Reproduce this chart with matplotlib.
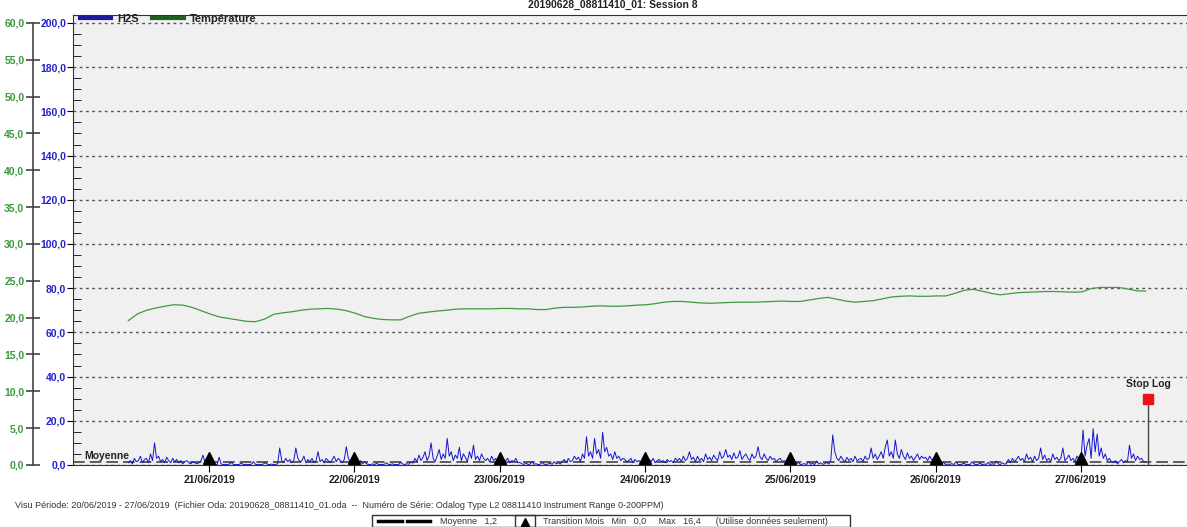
import pandas as pd
import numpy as np
import matplotlib
matplotlib.use('Agg')
import matplotlib.pyplot as plt
import matplotlib.dates as mdates
from matplotlib.lines import Line2D
from matplotlib.patches import Rectangle

plt.rcParams['font.family'] = ['Liberation Sans', 'DejaVu Sans']

# H2S readings (ppm), one every 20 min from 20/06/2019 10:40
h2s = [1, 2, 0.5, 3, 1.5, 2, 4, 1, 2.5, 3, 1, 5, 2, 10, 3, 4, 1.5, 2.5, 1, 3.5,
       2, 1, 3, 1.5, 2.5, 1, 2, 0.5, 1.5, 2, 1, 0.5, 1.5, 1, 0.5, 1,
       2, 4.5, 1, 3, 4, 1.5, 0.5,
       0.3, 0.2, 3.5, 0.5, 0.2, 0.3, 0.2, 0.4, 1.2, 0.3, 0.2, 0.2, 0.3, 0.8, 0.2, 0.3,
       0.2, 0.2, 0.4, 1.5, 0.3, 0.2, 0.3, 0.2, 0.5, 1.0, 0.3, 0.2, 0.4, 0.2, 0.3, 0.5,
       7.7, 2, 1, 3, 1.5, 2.5, 1, 2, 7.7, 3, 1.5, 2, 4, 1, 2.5, 1.5, 3, 1, 2, 6,
       1.5, 2.5, 1, 3, 2, 1, 2.5, 4, 1.5, 3, 2, 1, 2.5, 8.3,
       3, 1.5, 3.5, 1, 2.5, 1, 2, 0.5, 1.5, 0.5,
       0.3, 0.2, 0.5, 0.2, 0.8, 0.2, 0.3, 0.2, 0.4, 1.0, 0.2, 0.3, 0.5, 0.2, 0.2, 0.3,
       1.2, 0.4, 0.2, 0.6, 0.3, 1.5, 0.8,
       3, 1.5, 4.5, 2, 3.5, 6, 2, 4, 10, 3, 1.5, 4, 7, 2.5, 5, 3, 12, 4, 6, 2,
       4.5, 3, 8, 2, 5, 3.5, 1.5, 6, 3, 9, 2.5, 4, 2, 5, 3,
       2, 3, 1.5, 4, 2, 3, 1, 2.5, 3.5, 1.5, 2, 3, 1, 2, 1.5, 3, 1, 1.2,
       0.5, 0.3, 1.0, 0.2, 0.4, 1.5, 0.3, 0.6, 0.2, 0.3, 1.2, 0.4, 0.2, 0.5, 0.8, 0.3,
       1.5, 0.6, 1.0, 0.4, 1.5,
       2.5, 1, 3, 1.5, 2, 4, 2.5, 3.5, 1.5, 5, 3, 12.8, 4, 6, 3, 12, 5, 7, 3, 14.8,
       6, 8, 4, 5, 2.5, 6, 3, 4, 2, 3,
       2.5, 1.5, 2, 3, 1, 2.5, 1.5, 2, 1, 2.5, 1.5, 1, 2.5, 1.5, 3, 1, 2, 2.5, 1.5, 2,
       1, 2.5, 1.5, 2, 1, 3,
       2, 3, 1.5, 4, 2, 3, 6, 2.5, 3.5, 1.5, 4, 2, 3, 1.5, 5, 2.5, 3.5, 2, 4.5, 3,
       2, 6, 3, 4, 7, 3.5, 4.5, 2.5, 5.5, 3, 3.5, 6.5, 2.5, 4, 5, 3, 2, 5, 3, 4,
       8.3, 3.5, 2.5, 5, 3, 2, 4, 2.5, 3, 1.5, 2.5, 3, 1.5, 2, 1, 1.5,
       1.5, 0.8, 0.3, 0.5, 1.2, 0.2, 0.4, 0.6, 0.2, 1.5, 0.3, 0.8, 0.2, 1.8, 0.5, 1.0,
       0.3, 0.6, 1.2, 0.4, 2,
       13.6, 6,
       3, 2, 4, 2.5, 1.5, 3.5, 2, 3, 1.5, 4, 2, 2.5, 3, 1.5, 4, 2.5, 3,
       7.7, 3, 5, 2.5, 4, 6, 3, 8, 11.3, 4, 6, 3, 11.3, 5, 3, 7, 4, 2.5, 5.5, 3,
       4, 2, 3.5, 5, 2.5, 4, 3, 3.5, 2, 4, 2.5, 1.5,
       2, 1, 0.5, 0.3, 1.2, 0.2, 0.4, 0.3, 0.6, 0.2, 1.5, 0.3, 0.2, 0.4, 0.8, 0.2,
       0.3, 0.2, 1.4, 0.5, 0.2, 0.3, 0.9, 0.2, 0.4, 0.3, 1.2, 0.2, 0.6, 0.3, 1.8, 0.5,
       0.2, 1.0, 0.4, 0.6, 2.5, 1, 3, 1.5, 2.5,
       4, 2, 3, 1.5, 5, 2.5, 3.5, 1.5, 4, 2, 3, 7.7, 2.5, 4.5, 2, 3, 1.5, 5, 2.5, 3.5,
       2, 3, 7.7, 2, 3, 4.5, 2, 3, 1.5, 4, 2.5, 3,
       15.8, 4, 9, 12, 3, 16.4, 6, 14, 4, 7.7, 3, 5, 2, 3,
       1.5, 1, 2, 0.5, 1.5, 2.5, 1, 2, 1.5,
       9, 3, 5, 2, 4, 2.5, 3, 1.5, 1.5]

# temperature (°C), one every 1h30 from 20/06/2019 10:40
temp = [19.6, 20.5, 21.0, 21.3, 21.55, 21.75, 21.7, 21.4, 20.95, 20.5,
        20.1, 19.9, 19.7, 19.5, 19.45, 19.8, 20.45, 20.65, 20.8, 21.0,
        21.15, 21.2, 21.25, 21.15, 20.95, 20.6, 20.15, 19.9, 19.75, 19.7,
        19.7, 20.2, 20.6, 20.75, 20.9, 21.0, 21.15, 21.2, 21.2, 21.2,
        21.2, 21.25, 21.25, 21.2, 21.2, 21.1, 21.1, 21.3, 21.4, 21.4,
        21.45, 21.55, 21.6, 21.55, 21.55, 21.6, 21.7, 21.75, 21.9, 22.1,
        22.2, 22.2, 22.1, 22.0, 21.95, 22.0, 22.05, 22.1, 22.1, 22.1,
        22.15, 22.2, 22.25, 22.2, 22.2, 22.4, 22.6, 22.75, 22.5, 22.25,
        22.1, 22.2, 22.3, 22.55, 22.8, 22.9, 22.95, 22.9, 22.9, 22.95,
        22.95, 23.3, 23.7, 23.85, 23.6, 23.3, 23.1, 23.25, 23.4, 23.45,
        23.5, 23.55, 23.55, 23.5, 23.45, 23.5, 23.95, 24.1, 24.1, 24.1,
        23.9, 23.65, 23.6]

moyenne = 1.2
h2s_min = 0.0
h2s_max = 16.4
stop_log_time = '2019-06-27 11:04'
stop_log_value = 30
month_marks = ['2019-06-21', '2019-06-22', '2019-06-23', '2019-06-24',
               '2019-06-25', '2019-06-26', '2019-06-27']
h2s_ticks = [0, 20, 40, 60, 80, 100, 120, 140, 160, 180, 200]
temp_ticks = [0, 5, 10, 15, 20, 25, 30, 35, 40, 45, 50, 55, 60]

h2s_time = pd.date_range('2019-06-20 10:40', periods=len(h2s), freq='20min')
temp_time = pd.date_range('2019-06-20 10:40', periods=len(temp), freq='90min')
marks = pd.to_datetime(month_marks)


def fr(v):
    return f"{v:.1f}".replace('.', ',')


fig = plt.figure(figsize=(11.87, 5.27), dpi=100)
ax = fig.add_axes([73 / 1187, 1 - 465 / 527, 1 - 73 / 1187, 450 / 527])
ax.set_facecolor('#f0f0f0')

blue = '#1515d0'
green = '#3f9a3f'

ax.plot(h2s_time, h2s, color=blue, lw=0.7, zorder=3)
ax.axhline(moyenne, color='#444444', lw=1.2, dashes=(7, 3), zorder=2)
ax.text(pd.Timestamp('2019-06-20 03:20'), moyenne + 0.7, 'Moyenne', fontsize=7.5,
        fontweight='bold', color='#222222', va='bottom')
ax.plot(marks, [3.2] * len(marks), linestyle='none', marker='^', ms=9,
        color='black', zorder=4, clip_on=False)

# stop log
slt = pd.Timestamp(stop_log_time)
ax.plot([slt, slt], [0, stop_log_value], color='#444444', lw=1, zorder=4)
ax.plot([slt], [stop_log_value], marker='s', ms=7, color='#ee1111', zorder=5)
ax.text(slt, stop_log_value + 4.5, 'Stop Log', ha='center', va='bottom',
        fontsize=7.5, fontweight='bold', color='#222222')

ax.set_xlim(pd.Timestamp('2019-06-20 01:32'), pd.Timestamp('2019-06-27 17:30'))
ax.set_ylim(0, 203.6)
ax.set_yticks(h2s_ticks)
ax.set_yticklabels([fr(v) for v in h2s_ticks], color='#2222cc',
                   fontsize=7.5, fontweight='bold')
ax.set_yticks(np.arange(5, 200, 5), minor=True)
ax.tick_params(axis='y', which='major', direction='out', length=4, pad=1)
ax.tick_params(axis='y', which='minor', direction='in', length=6)
ax.grid(axis='y', which='major', color='#555555', lw=1,
        linestyle=(0, (2, 2.5)))
ax.set_xticks(marks)
ax.xaxis.set_major_formatter(mdates.DateFormatter('%d/%m/%Y'))
ax.tick_params(axis='x', direction='out', length=5, pad=2)
for lbl in ax.get_xticklabels():
    lbl.set_fontsize(7.5)
    lbl.set_fontweight('bold')
    lbl.set_color('#222222')
ax.spines['right'].set_visible(False)
for s in ['left', 'bottom', 'top']:
    ax.spines[s].set_color('#333333')

# temperature axis
ax2 = ax.twinx()
ax2.plot(temp_time, temp, color=green, lw=0.9, zorder=3)
ax2.set_ylim(0, 203.6 * 0.3)
ax2.yaxis.set_ticks_position('left')
ax2.yaxis.set_label_position('left')
ax2.spines['left'].set_position(('outward', 29))
ax2.spines['left'].set_bounds(0, 60)
ax2.spines['left'].set_color('#444444')
ax2.spines['left'].set_linewidth(1.2)
for s in ['right', 'top', 'bottom']:
    ax2.spines[s].set_visible(False)
ax2.set_yticks(temp_ticks)
ax2.set_yticklabels([fr(v) for v in temp_ticks], color='#3a9a3a',
                    fontsize=7.5, fontweight='bold')
ax2.tick_params(axis='y', direction='inout', length=10, width=1.2, pad=1,
                color='#444444')

handles = [Line2D([], [], color='#1a1aa0', lw=3),
           Line2D([], [], color='#1f5f1f', lw=3)]
leg = ax2.legend(handles, ['H2S', 'Température'], loc='upper left', ncol=2,
                 frameon=False, fontsize=8, handlelength=2.8,
                 handletextpad=0.6, columnspacing=1.2,
                 borderaxespad=0.0, bbox_to_anchor=(0.002, 1.013))
for t in leg.get_texts():
    t.set_fontweight('bold')
    t.set_color('#222222')

fig.text(613 / 1187, 1 - 5 / 527, '20190628_08811410_01: Session 8',
         ha='center', va='center', fontsize=7.5, fontweight='bold',
         color='#222222')

fig.text(15 / 1187, 1 - 506 / 527,
         'Visu Période: 20/06/2019 - 27/06/2019  (Fichier Oda: 20190628_08811410_01.oda  --  '
         'Numéro de Série: Odalog Type L2 08811410 Instrument Range 0-200PPM)',
         ha='left', va='center', fontsize=6.5, color='#333333')

# bottom legend box
fig.patches.append(Rectangle((372 / 1187, 0), (850 - 372) / 1187, 12 / 527,
                             transform=fig.transFigure, fill=False,
                             edgecolor='#333333', lw=1))
fig.patches.append(Rectangle((515 / 1187, 0), 20 / 1187, 12 / 527,
                             transform=fig.transFigure, fill=False,
                             edgecolor='#333333', lw=1))
yl = 1 - 521 / 527
fig.lines.append(Line2D([378 / 1187, 402 / 1187], [yl, yl], color='black',
                        lw=2.5, transform=fig.transFigure))
fig.lines.append(Line2D([407 / 1187, 430 / 1187], [yl, yl], color='black',
                        lw=2.5, transform=fig.transFigure))
fig.lines.append(Line2D([525 / 1187], [yl - 0.002], marker='^', ms=6,
                        color='black', transform=fig.transFigure))
fig.text(440 / 1187, yl, f'Moyenne   {fr(moyenne)}', ha='left', va='center',
         fontsize=6.5, color='#333333')
fig.text(543 / 1187, yl,
         f'Transition Mois   Min   {fr(h2s_min)}     Max   {fr(h2s_max)}      '
         '(Utilise données seulement)',
         ha='left', va='center', fontsize=6.5, color='#333333')

fig.savefig('out.png', dpi=100)
